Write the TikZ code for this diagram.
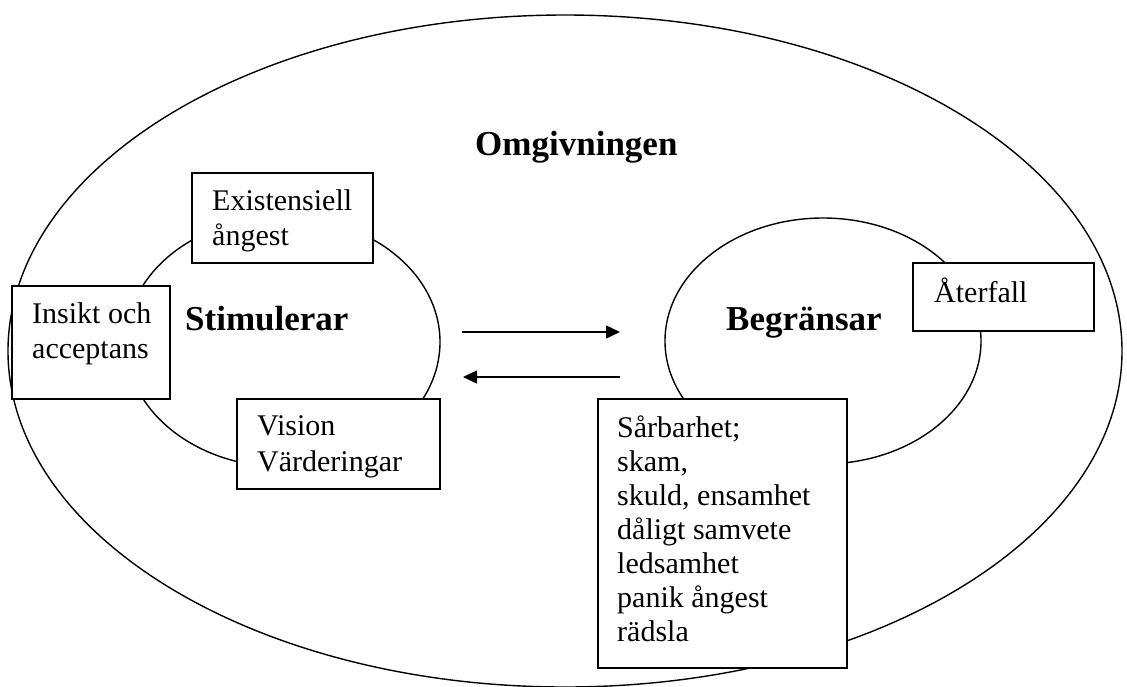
\documentclass[tikz,border=0pt]{standalone}
\usepackage{fontspec}
\setmainfont{Liberation Serif}
\usetikzlibrary{shapes.geometric,arrows.meta}
\tikzset{
  ring/.style={draw, ellipse, line width=1.4pt, inner sep=0pt},
  boxnode/.style={draw, fill=white, rectangle, line width=1.4pt, inner sep=0pt},
  txt/.style={anchor=base west, inner sep=0pt, align=left, font=\fontsize{30}{#1}\selectfont},
  lbl/.style={anchor=base west, inner sep=0pt, font=\bfseries\fontsize{35}{42}\selectfont},
  arr/.style={line width=1.4pt, -{Triangle[length=14pt,width=13pt]}}
}
\newcommand{\lines}[1]{\begin{tabular}[t]{@{}l@{}}#1\end{tabular}}
\begin{document}
\begin{tikzpicture}[x=1pt,y=-1pt]
\useasboundingbox (0,0) rectangle (1127,686);
% rings
\node[ring, minimum width=1114pt, minimum height=672pt] (omg) at (565,351) {};
\node[ring, minimum width=314pt, minimum height=250pt] (stim) at (283,342) {};
\node[ring, minimum width=316pt, minimum height=246pt] (begr) at (823,341) {};
% boxes
\node[boxnode, minimum width=181pt, minimum height=90pt] (ex) at (282.5,218) {};
\node[boxnode, minimum width=158pt, minimum height=113pt] (ins) at (91,342.5) {};
\node[boxnode, minimum width=203pt, minimum height=90pt] (vis) at (338.5,444) {};
\node[boxnode, minimum width=181pt, minimum height=68pt] (ate) at (1003.5,297) {};
\node[boxnode, minimum width=249pt, minimum height=269pt] (sar) at (722.5,533.5) {};
% box texts
\node[txt=35] (extxt) at (212,210) {\lines{Existensiell\\ångest}};
\node[txt=35.5] (instxt) at (32,323) {\lines{Insikt och\\acceptans}};
\node[txt=36.5] (vistxt) at (257,435) {\lines{Vision\\Värderingar}};
\node[txt=35] (atetxt) at (934,302) {Återfall};
\node[txt=34] (sartxt) at (617,437) {\lines{Sårbarhet;\\skam,\\skuld, ensamhet\\dåligt samvete\\ledsamhet\\panik ångest\\rädsla}};
% bold labels
\node[lbl] (omglbl) at (475,155) {Omgivningen};
\node[lbl] (stimlbl) at (185,330) {Stimulerar};
\node[lbl] (begrlbl) at (726,330) {Begränsar};
% arrows
\coordinate (a1s) at (462,332);
\coordinate (a1e) at (620,332);
\coordinate (a2s) at (620,377);
\coordinate (a2e) at (463,377);
\draw[arr] (a1s) -- (a1e);
\draw[arr] (a2s) -- (a2e);
\end{tikzpicture}
\end{document}
